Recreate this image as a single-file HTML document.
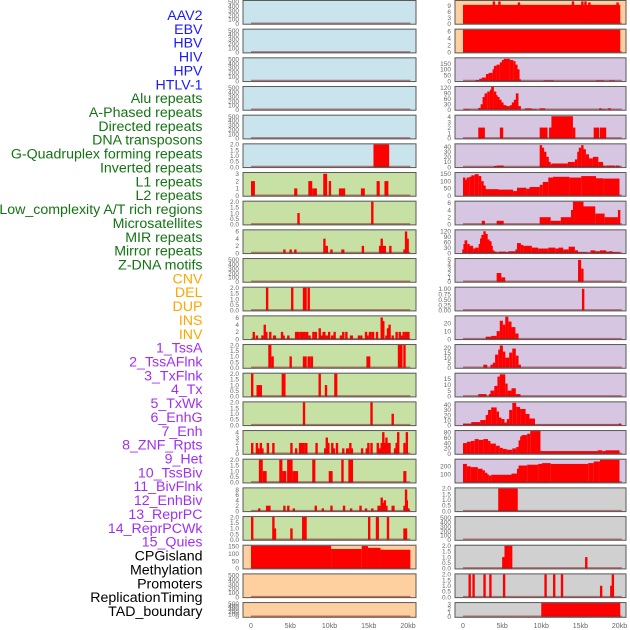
<!DOCTYPE html>
<html><head><meta charset="utf-8"><style>
html,body{margin:0;padding:0;background:#fff;width:630px;height:630px;overflow:hidden}
svg{display:block}
</style></head><body>
<svg id="chart" width="630" height="630" xmlns="http://www.w3.org/2000/svg" font-family="Liberation Sans, sans-serif"></svg>
<script>
const labels = ["AAV2","EBV","HBV","HIV","HPV","HTLV-1","Alu repeats","A-Phased repeats","Directed repeats","DNA transposons","G-Quadruplex forming repeats","Inverted repeats","L1 repeats","L2 repeats","Low_complexity A/T rich regions","Microsatellites","MIR repeats","Mirror repeats","Z-DNA motifs","CNV","DEL","DUP","INS","INV","1_TssA","2_TssAFlnk","3_TxFlnk","4_Tx","5_TxWk","6_EnhG","7_Enh","8_ZNF_Rpts","9_Het","10_TssBiv","11_BivFlnk","12_EnhBiv","13_ReprPC","14_ReprPCWk","15_Quies","CPGisland","Methylation","Promoters","ReplicationTiming","TAD_boundary"];
const labelGroups = [6,13,5,15,5];
const groupColors = ["#1a1aff","#137413","#ffa500","#a030f0","#000000"];
const xTicks = [0,5,10,15,20];
const xTickLabels = ["0","5kb","10kb","15kb","20kb"];
const T500=[0,100,200,300,400,500], T2=[0,0.5,1,1.5,2];
const leftYmax = [520,520,520,520,520,2,3.1,2,6.3,520,2,6.3,2,2,2,4.2,2,8.4,2,152,520,520];
const leftTicks = [T500,T500,T500,T500,T500,T2,[0,1,2,3],T2,[0,2,4,6],T500,T2,[0,2,4,6],T2,T2,T2,[0,1,2,3,4],T2,[0,2,4,6,8],T2,[0,50,100,150],T500,T500];
const leftBg = ["#c9e4ec","#c9e4ec","#c9e4ec","#c9e4ec","#c9e4ec","#c9e4ec","#c7e1a5","#c7e1a5","#c7e1a5","#c7e1a5","#c7e1a5","#c7e1a5","#c7e1a5","#c7e1a5","#c7e1a5","#c7e1a5","#c7e1a5","#c7e1a5","#c7e1a5","#fed0a0","#fed0a0","#fed0a0"];
const leftSegs = [[],[],[],[],[],
[[15.6,17.6,2]],
[[0,0.5,2],[5.5,5.9,1],[7.3,7.8,2],[7.8,8.4,1],[9.2,9.7,3],[9.9,10.1,2],[11.2,12,1],[14,14.5,1],[16,16.4,2],[17,17.5,2]],
[[5.9,6.1,1],[15.3,15.6,2]],
[[4.1,4.3,1],[4.9,5.1,1],[5.5,5.7,1],[9.2,9.5,4],[9.5,9.6,2],[10.1,10.4,1],[11.5,11.9,1],[14.1,14.3,2],[16.3,16.5,2],[16.5,16.7,4],[16.7,17.2,2],[17.6,17.8,2],[19.4,19.6,1],[19.6,19.8,6],[19.8,19.9,4]],
[],
[[1.9,2.1,2],[5.1,5.3,2],[6.6,7.1,2],[7.2,7.4,2]],
[[0.2,0.4,2],[0.6,0.8,1],[1.3,1.5,1],[1.6,1.8,4],[1.8,2,2],[2.3,2.5,2],[2.8,3.2,1],[3.8,4,2],[4,4.2,1],[4.6,4.8,1],[5.6,6.2,2],[6.2,6.4,2],[6.4,7,2],[7,7.3,2],[7.3,7.6,1],[7.8,8.1,2],[8.1,8.4,2],[8.6,8.8,3],[8.8,9,1],[9.1,9.5,2],[9.5,9.7,1],[9.8,10,2],[10.2,10.4,1],[10.5,10.7,2],[11.3,11.6,1],[11.6,11.8,2],[12,12.2,2],[12.6,13,1],[13.6,13.8,1],[13.9,14.1,1],[14.5,14.7,2],[14.7,14.9,1],[15,15.4,2],[15.4,15.6,2],[15.9,16.1,2],[16.5,16.7,6],[16.7,16.9,5],[17.1,17.3,1],[17.3,17.5,3],[17.5,17.7,4],[17.9,18.1,1],[18.4,18.6,2],[18.8,19,2],[19,19.2,1],[19.3,19.5,2],[19.6,19.8,2],[19.8,20.2,2]],
[[2.2,2.6,2],[2.6,2.8,1],[4.9,5.2,1],[6.6,7.1,1],[7.2,7.6,1],[7.6,7.8,1],[14.7,15.2,1],[18.7,19.3,2],[19.4,19.7,2]],
[[0,0.2,2],[0.7,1.4,1],[3.9,4.4,2],[8.6,8.9,2],[9.4,9.7,1],[10.6,11,2]],
[[6.6,6.9,2],[15.2,15.4,2],[17.9,18.1,1]],
[[0,0.2,2],[0.6,0.8,2],[0.8,0.9,1],[1.1,1.3,2],[1.3,1.4,1],[2,2.2,2],[2.7,2.9,2],[5,5.2,2],[5.6,5.8,1],[6.1,6.8,2],[6.8,7.2,2],[8.2,8.4,2],[9.3,9.5,1],[9.5,9.7,3],[9.7,9.8,2],[10.2,10.4,2],[10.4,10.6,1],[10.8,11,2],[11.6,11.8,1],[12.1,12.5,1],[12.5,12.7,2],[12.7,12.9,1],[14,14.2,1],[14.6,14.8,1],[14.8,15,2],[15.2,15.4,2],[16,16.2,2],[16.3,16.5,1],[16.5,16.7,2],[16.7,16.9,4],[16.9,17.1,2],[17.1,17.3,3],[17.3,17.8,2],[18.2,18.4,1],[18.4,18.6,2],[18.6,18.9,4],[19.4,19.7,2],[19.7,19.9,4]],
[[1,1.5,2],[1.5,2,1],[3.6,4,2],[4,4.5,1],[4.6,5.3,2],[5.3,6,1],[7.8,8.2,2],[9.9,10.4,1],[11.5,11.8,2],[12.4,13,2],[19.4,19.8,1]],
[[0.9,1.1,1],[1.9,2.5,2],[4.1,4.4,2],[4.6,4.8,2],[5.3,5.5,1],[8.1,8.4,2],[9,9.3,1],[10.1,10.4,2],[11.7,12,2],[12.6,12.9,1],[13.8,14.1,2],[14.5,14.7,1],[15.3,15.5,1],[16.1,16.5,2],[16.5,16.7,5],[16.7,16.9,3],[16.9,17.1,4],[17.1,17.3,2],[17.9,18.3,2],[19.4,19.6,2],[19.6,19.7,8],[19.7,19.9,4],[19.9,20,1]],
[[0,0.2,2],[2.7,2.9,2],[2.9,3,1],[5,5.2,1],[6.5,7.1,2],[14.9,15.1,2],[15.9,16.3,2],[17.3,17.5,2],[19.4,19.9,1]],
[[0,10.2,175],[10.2,14.1,130],[14.1,14.9,150],[14.9,16.5,138],[16.5,20.3,125]],
[],[]];
const rightYmax = [11.2,6.5,194,125,4.2,44.5,156,6.3,125,5.2,1.05,28.5,22.5,19.5,45,85,282,2,520,2,2,3.3];
const rightTicks = [[0,3,6,9],[0,2,4,6],[0,50,100,150],[0,30,60,90,120],[0,1,2,3,4],[0,10,20,30,40],[0,50,100,150],[0,2,4,6],[0,30,60,90,120],[0,1,2,3,4,5],[0,0.25,0.5,0.75,1],[0,10,20],[0,5,10,15,20],[0,5,10,15],[0,10,20,30,40],[0,20,40,60,80],[100,200],T2,T500,T2,T2,[0,1,2,3]];
const rightTickLabels = {10:["0.00","0.25","0.50","0.75","1.00"]};
const rightBg = ["#fed0a0","#fed0a0","#d6c6e1","#d6c6e1","#d6c6e1","#d6c6e1","#d6c6e1","#d6c6e1","#d6c6e1","#d6c6e1","#d6c6e1","#d6c6e1","#d6c6e1","#d6c6e1","#d6c6e1","#d6c6e1","#d6c6e1","#d0d0d0","#d0d0d0","#d0d0d0","#d0d0d0","#d0d0d0"];
const rightSegs = [
[[0,20.1,9.3],[3.8,3.9,11],[4.5,4.6,11],[7.0,7.1,10.5],[13.9,14.0,11],[15.1,15.2,11],[15.5,15.6,11],[16.0,16.1,10.5],[19.6,19.7,10.5]],
[[0,20.1,7]],
[[1.57,2.08,8],[2.08,2.42,20],[2.42,2.93,30],[2.93,3.27,60],[3.27,3.78,70],[3.78,3.95,100],[3.95,4.29,130],[4.29,4.71,140],[4.71,4.97,160],[4.97,5.22,180],[5.22,5.99,190],[5.99,6.41,180],[6.41,6.67,170],[6.67,6.92,140],[6.92,7.09,100],[7.09,7.35,15],[10.3,11.6,5],[17.0,18.0,5],[18.7,19.4,5]],
[[0.13,0.9,3],[1.95,2.25,10],[2.25,2.5,30],[2.5,2.76,70],[2.76,3.1,90],[3.1,3.44,100],[3.44,3.6,110],[3.6,3.95,125],[3.95,4.12,100],[4.12,4.37,80],[4.37,4.63,70],[4.63,4.88,55],[4.88,5.14,40],[5.14,5.56,25],[5.56,5.99,20],[5.99,6.24,25],[6.24,6.5,40],[6.5,6.75,55],[6.75,7.09,90],[7.09,7.35,20],[7.94,8.79,8],[8.79,9.38,3],[9.8,10.5,8],[17.4,17.6,8],[17.6,18.2,3],[18.5,18.9,8]],
[[1.95,2.8,2],[4.71,5.14,2],[9.8,10.8,2],[11,11.3,2],[11.3,14.05,4.1],[14.05,14.2,2],[16.7,17.4,2],[17.5,18.3,2]],
[[3.95,4.3,2],[4.3,5.2,3],[9.8,10.06,43],[10.06,10.3,38],[10.3,10.66,30],[10.66,10.9,20],[10.9,11.2,10],[11.2,11.3,5],[11.3,13.4,7],[13.4,14.3,10],[14.3,14.6,15],[14.6,14.8,30],[14.8,15.1,38],[15.1,15.4,43],[15.4,15.7,35],[15.7,16.1,25],[16.1,16.6,17],[16.6,17.3,20],[17.3,17.9,10],[17.9,18.1,3],[18.3,19.4,3],[19.5,20,3]],
[[0,0.2,125],[0.2,0.47,110],[0.47,0.8,125],[0.8,1.06,130],[1.06,1.5,140],[1.5,2.0,148],[2.0,2.34,135],[2.34,2.6,100],[2.6,2.85,70],[2.85,4.54,45],[4.54,6.4,42],[6.4,6.9,32],[6.9,8.1,55],[8.1,8.5,48],[8.5,9.8,60],[9.8,10.2,75],[10.2,10.9,95],[10.9,11.5,125],[11.5,13.6,130],[13.6,15.1,125],[15.1,17.0,135],[17.0,17.9,120],[17.9,20.0,118]],
[[2.4,2.8,1],[4.3,5.2,1],[9.8,11.2,2],[11.2,12.5,1],[12.5,13.8,2],[13.8,14.05,4],[14.05,15.4,6.3],[15.4,16.9,5],[16.9,18.1,3],[18.1,19.8,2],[19.8,20,4]],
[[-0.1,0.05,20],[0.05,0.2,50],[0.2,0.55,70],[0.55,0.8,50],[0.8,1.3,40],[1.3,1.57,25],[1.57,2.0,30],[2.0,2.17,50],[2.17,2.34,80],[2.34,2.6,100],[2.6,2.85,120],[2.85,3.1,105],[3.1,3.35,75],[3.35,3.5,65],[3.5,3.7,40],[3.7,3.95,15],[3.95,4.3,8],[4.3,4.6,4],[4.6,5.5,8],[5.5,5.8,5],[5.8,6.7,10],[6.7,6.9,20],[6.9,7.4,55],[7.4,7.7,45],[7.7,8.8,40],[8.8,9.6,30],[9.6,10.9,25],[10.9,11.8,30],[11.8,12.2,25],[12.2,12.8,30],[12.8,13.5,20],[13.5,14.3,35],[14.3,14.7,15],[14.7,15.8,5],[15.8,16.3,2],[16.3,16.9,15],[16.9,17.5,10],[17.5,18.3,15],[18.3,18.7,8],[18.7,19.1,10],[19.1,20,5]],
[[4.3,4.9,2],[4.9,5.4,1],[14.7,15.1,5],[15.1,15.3,3]],
[[15.2,15.5,1]],
[[2.9,3.6,3],[3.6,4.3,4],[4.3,4.7,10],[4.7,5.1,23],[5.1,5.4,18],[5.4,5.8,28],[5.8,6.2,22],[6.2,6.7,15],[6.7,7.1,7]],
[[2.6,3.1,3],[3.5,3.8,3],[3.8,4.1,5],[4.1,4.5,13],[4.5,4.7,18],[4.7,5.1,22],[5.1,5.4,16],[5.4,5.9,10],[5.9,6.3,15],[6.3,6.75,19],[6.75,7.1,12],[7.1,7.3,3]],
[[1.95,3.0,2],[3.3,3.5,2],[3.5,4.0,5],[4.0,4.4,9],[4.4,4.7,17],[4.7,5.4,19],[5.4,5.7,11],[5.7,6.2,5],[6.2,6.75,7],[6.75,7.35,2]],
[[0,1.06,3],[1.06,2.2,6],[2.2,2.9,10],[2.9,3.2,20],[3.2,3.6,30],[3.6,4.3,35],[4.3,4.6,27],[4.6,4.9,15],[4.9,5.3,12],[5.3,5.6,5],[5.6,5.9,12],[5.9,6.3,30],[6.3,6.8,44],[6.8,7.3,36],[7.3,8.0,32],[8.0,8.5,22],[8.5,9.2,13],[9.2,19.9,1],[19.9,20,3]],
[[0,0.5,40],[0.5,1,45],[1,1.5,48],[1.5,2,55],[2,2.6,52],[2.6,3.2,55],[3.2,3.5,48],[3.5,4.2,38],[4.2,4.7,30],[4.7,5.1,22],[5.1,5.6,18],[5.6,6.3,15],[6.3,6.8,20],[6.8,7.1,25],[7.1,7.3,50],[7.3,7.5,65],[7.5,8.2,70],[8.2,8.6,75],[8.6,9.9,85],[9.9,17.2,10],[17.2,17.8,13],[17.8,18.2,10],[18.2,20,13]],
[[0,0.5,230],[0.5,1,200],[1,1.9,190],[1.9,2.5,170],[2.5,2.8,150],[2.8,3,120],[3,3.3,100],[3.3,3.6,85],[3.6,6.2,95],[6.2,6.9,110],[6.9,7.1,170],[7.1,8.2,210],[8.2,9.6,220],[9.6,10.1,230],[10.1,11.2,240],[11.2,16.0,230],[16.0,16.7,240],[16.7,17.5,260],[17.5,20,280]],
[[4.5,7,2]],
[],
[[5.0,5.3,1],[5.3,6.0,2],[6.0,6.15,2],[15.6,15.9,1]],
[[0.7,0.9,2],[1.2,1.5,2],[2.6,2.9,2],[3.35,3.65,2],[5.1,5.3,2],[10.4,10.6,2],[11.5,11.8,2],[12.5,12.8,2],[17.5,17.6,1],[18.8,18.9,1],[19.0,19.3,2]],
[[10,20.1,3.3]]];

const NS="http://www.w3.org/2000/svg";
const svg=document.getElementById('chart');
function mk(tag,attrs,parent){const e=document.createElementNS(NS,tag);for(const k in attrs)e.setAttribute(k,attrs[k]);(parent||svg).appendChild(e);return e;}
let li=0;
labelGroups.forEach((n,g)=>{for(let j=0;j<n;j++){const t=mk('text',{x:202.5,y:(20+li*13.86).toFixed(1),'text-anchor':'end','font-size':'14.2',fill:groupColors[g]});


t.textContent=labels[li];li++;}});
function rowTop(i){return 28.67*i;}
function rowH(i){return i===21?15.7:24.7;}
function drawCol(x0,x1,xz,x20,bgs,ymaxs,ticks,segs,side){
  const xs=kb=>xz+(x20-xz)*kb/20;
  for(let i=0;i<22;i++){
    const top=rowTop(i),h=rowH(i),bot=top+h;
    const g=mk('g',{});
    
    
    mk('rect',{x:x0,y:top,width:x1-x0,height:h,fill:bgs[i]},g);
    const ys=v=>bot-1-Math.min(v,ymaxs[i])/ymaxs[i]*(h-2);
    segs[i].forEach(s=>{
      const r=mk('rect',{x:xs(s[0]).toFixed(2),y:ys(s[2]).toFixed(2),width:Math.max(2.4,xs(s[1])-xs(s[0])).toFixed(2),height:(bot-1-ys(s[2])).toFixed(2),fill:'#ff0000'},g);
      
      
    });
    mk('line',{x1:xs(0),x2:xs(20.3),y1:bot-1.5,y2:bot-1.5,stroke:'rgba(150,30,30,0.55)','stroke-width':1.5},g);
    mk('rect',{x:x0,y:top+0.5,width:x1-x0,height:h-1,fill:'none',stroke:'#5a5a5a','stroke-width':1},g);
    ticks[i].forEach((tv,k)=>{
      const lab=(side==='right'&&rightTickLabels[i])?rightTickLabels[i][k]:(ticks[i]===T2?tv.toFixed(1):String(tv));
      const t=mk('text',{x:x0-4,y:(ys(tv)+2.3).toFixed(1),'text-anchor':'end','font-size':'6.5',fill:'#666'},g);
      
      
      t.textContent=lab;
    });
  }
  xTicks.forEach((v,k)=>{const t=mk('text',{x:xs(v),y:628,'text-anchor':'middle','font-size':'7',fill:'#666'});
    
    
    t.textContent=xTickLabels[k];});
}
drawCol(243,416,251,408,leftBg,leftYmax,leftTicks,leftSegs,'left');
drawCol(455,626,463,619.5,rightBg,rightYmax,rightTicks,rightSegs,'right');
</script>
</body></html>
